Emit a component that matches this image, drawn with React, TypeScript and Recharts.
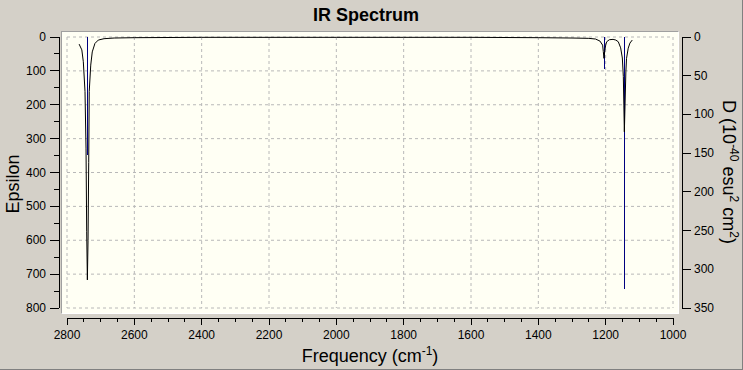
import { ComposedChart, Line, Bar, XAxis, YAxis, CartesianGrid } from 'recharts';

// calculated IR spectrum (broadened curve)
const curveFreq = [
  2764, 2756, 2751.5, 2746.5, 2743.5, 2741.5, 2739.5, 2737.5, 2735.5, 2734, 2729.5, 2725, 2717, 2707, 2690,
  2660, 2600, 2400, 2200, 2000, 1800, 1600, 1400, 1300, 1250, 1230, 1217, 1209, 1207, 1205, 1202.5, 1200,
  1197, 1189, 1178, 1170, 1162.5, 1155.5, 1150.5, 1147.5, 1146, 1144.5, 1142.5, 1140, 1138, 1133, 1128, 1121,
];
const curveEps = [
  21, 38, 73, 161, 328, 575, 717, 600, 370, 161, 83, 44, 19, 9, 5,
  3, 2, 1, 1, 1, 1, 1, 2, 3, 4, 6, 12, 24, 43, 63, 40, 24,
  14, 8, 7, 9, 14, 32, 62, 117, 201, 280, 201, 103, 63, 33, 18, 9,
];

// stick spectrum (dipole strengths)
const stickFreq = [2739, 1204, 1145];
const stickD = [153, 41, 325];

const freqMajor = [2800, 2600, 2400, 2200, 2000, 1800, 1600, 1400, 1200, 1000];
const freqTicks = Array.from({ length: 37 }, (_, i) => 1000 + i * 50);
const epsMajor = [0, 100, 200, 300, 400, 500, 600, 700, 800];
const epsTicks = Array.from({ length: 17 }, (_, i) => i * 50);
const dTicks = [0, 50, 100, 150, 200, 250, 300, 350];

const data = [
  ...curveFreq.map((f, i) => ({ freq: f, eps: curveEps[i] })),
  ...stickFreq.map((f, i) => ({ freq: f, d: stickD[i] })),
];

const FONT = '"Liberation Sans", Arial, sans-serif';

function LeftTick({ x, y, payload }: any) {
  const major = payload.value % 100 === 0;
  const ax = x - 8;
  return (
    <g>
      <line x1={ax - (major ? 9 : 5)} x2={ax} y1={y} y2={y} stroke="#000" shapeRendering="crispEdges" />
      {major && (
        <text x={ax - 13} y={y} dy={4} textAnchor="end" fontSize={12} fill="#000" fontFamily={FONT}>
          {payload.value}
        </text>
      )}
    </g>
  );
}

function RightTick({ x, y, payload }: any) {
  const ax = x + 9;
  return (
    <g>
      <line x1={ax} x2={ax + 9} y1={y} y2={y} stroke="#000" shapeRendering="crispEdges" />
      <text x={ax + 12} y={y} dy={4} textAnchor="start" fontSize={12} fill="#000" fontFamily={FONT}>
        {payload.value}
      </text>
    </g>
  );
}

function BottomTick({ x, y, payload }: any) {
  const major = freqMajor.includes(payload.value);
  const ay = y + 10;
  return (
    <g>
      <line x1={x} x2={x} y1={ay} y2={ay + (major ? 7 : 4)} stroke="#000" shapeRendering="crispEdges" />
      {major && (
        <text x={x} y={ay + 21} textAnchor="middle" fontSize={12} fill="#000" fontFamily={FONT}>
          {payload.value}
        </text>
      )}
    </g>
  );
}

// thin vertical stick, kept pixel-sharp
function Stick({ x, y, width, height, fill }: any) {
  if (x == null || y == null || !height) return null;
  const top = Math.min(y, y + height);
  return (
    <rect
      x={Math.round(x + width / 2 - 0.5)}
      y={top}
      width={1}
      height={Math.abs(height)}
      fill={fill}
      shapeRendering="crispEdges"
    />
  );
}

export default function App() {
  return (
    <div
      style={{
        position: 'absolute',
        left: 0,
        top: 0,
        width: 743,
        height: 370,
        boxSizing: 'border-box',
        background: '#D4D0C8',
        borderRight: '1px solid #808080',
        borderBottom: '1px solid #808080',
        fontFamily: FONT,
      }}
    >
      {/* plot panel */}
      <div
        style={{
          position: 'absolute',
          left: 61,
          top: 31,
          width: 618,
          height: 283,
          boxSizing: 'border-box',
          background: '#FFFFF4',
          borderLeft: '1px solid #A0A0A0',
          borderTop: '1px solid #A0A0A0',
          borderRight: '1px solid #FFFFFF',
          borderBottom: '1px solid #FFFFFF',
        }}
      />
      <div style={{ position: 'absolute', left: 0, top: 0 }}>
        <ComposedChart width={743} height={370} data={data} margin={{ top: 37, right: 10, bottom: 22, left: 7 }}>
          <CartesianGrid
            yAxisId="left"
            stroke="#B8B8B8"
            strokeDasharray="3 3"
            horizontalValues={epsMajor}
            verticalValues={freqMajor}
          />
          <XAxis
            type="number"
            dataKey="freq"
            domain={[1000, 2800]}
            reversed
            ticks={freqTicks}
            interval={0}
            allowDataOverflow
            height={40}
            tickSize={0}
            tickMargin={0}
            tickLine={false}
            tick={<BottomTick />}
            axisLine={{ stroke: '#000', transform: 'translate(0,10)', shapeRendering: 'crispEdges' }}
          />
          <YAxis
            yAxisId="left"
            type="number"
            domain={[0, 800]}
            reversed
            ticks={epsTicks}
            interval={0}
            width={60}
            tickSize={0}
            tickMargin={0}
            tickLine={false}
            tick={<LeftTick />}
            axisLine={{ stroke: '#000', transform: 'translate(-8,0)', shapeRendering: 'crispEdges' }}
          />
          <YAxis
            yAxisId="right"
            orientation="right"
            type="number"
            domain={[0, 350]}
            reversed
            ticks={dTicks}
            interval={0}
            width={60}
            tickSize={0}
            tickMargin={0}
            tickLine={false}
            tick={<RightTick />}
            axisLine={{ stroke: '#000', transform: 'translate(9,0)', shapeRendering: 'crispEdges' }}
          />
          <Bar yAxisId="right" dataKey="d" fill="#000080" barSize={1} shape={<Stick />} isAnimationActive={false} />
          <Line
            yAxisId="left"
            type="linear"
            dataKey="eps"
            stroke="#000"
            strokeWidth={1}
            dot={false}
            connectNulls
            isAnimationActive={false}
          />
        </ComposedChart>
      </div>
      {/* titles */}
      <svg width={743} height={370} style={{ position: 'absolute', left: 0, top: 0, pointerEvents: 'none' }}>
        <text x={366} y={21} textAnchor="middle" fontSize={18} fontWeight="bold" fill="#000" fontFamily={FONT}>
          IR Spectrum
        </text>
        <text x={370} y={362} textAnchor="middle" fontSize={18} fill="#000" fontFamily={FONT}>
          Frequency (cm<tspan dy={-7} fontSize={12}>-1</tspan>
          <tspan dy={7}>)</tspan>
        </text>
        <text
          x={19}
          y={184}
          textAnchor="middle"
          fontSize={18}
          fill="#000"
          fontFamily={FONT}
          transform="rotate(-90, 19, 184)"
        >
          Epsilon
        </text>
        <text
          x={723}
          y={172}
          textAnchor="middle"
          fontSize={18}
          fill="#000"
          fontFamily={FONT}
          transform="rotate(90, 723, 172)"
        >
          D (10<tspan dy={-7} fontSize={12}>-40</tspan>
          <tspan dy={7}> esu</tspan>
          <tspan dy={-7} fontSize={12}>2</tspan>
          <tspan dy={7}> cm</tspan>
          <tspan dy={-7} fontSize={12}>2</tspan>
          <tspan dy={7}>)</tspan>
        </text>
      </svg>
    </div>
  );
}
